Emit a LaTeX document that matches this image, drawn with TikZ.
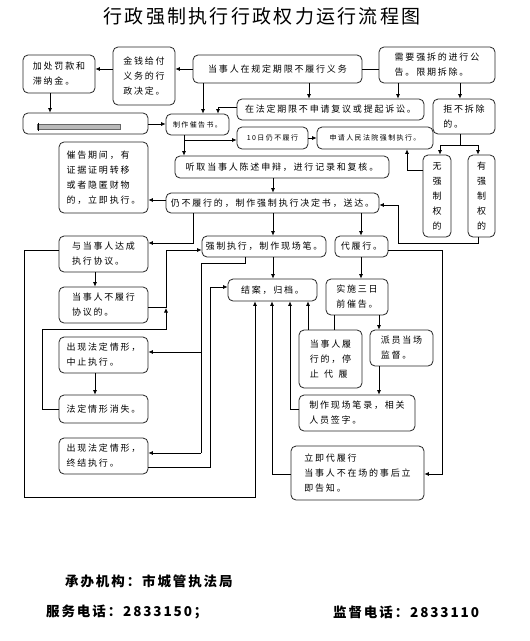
\documentclass[tikz,border=0pt]{standalone}
\usepackage{fontspec}
\usetikzlibrary{fit,arrows.meta}
\newfontfamily\cjk[LetterSpace=20]{Noto Sans CJK SC}
\newfontfamily\cjktitle[LetterSpace=12]{Noto Sans CJK SC}
\newfontfamily\cjkfoot[LetterSpace=14]{Noto Sans CJK SC}
\newcommand\lft[1]{{\def\\{\cr}\vbox{\halign{##\hfil\cr#1\crcr}}}}
\newcommand\ctr[1]{{\def\\{\cr}\vbox{\halign{\hfil##\hfil\cr#1\crcr}}}}
\begin{document}
\begin{tikzpicture}[x=1pt,y=-1pt,
  box/.style={draw=black!85, line width=0.8pt, rounded corners=5pt, inner sep=0pt},
  txt/.style={inner sep=0pt, font=\cjk\fontsize{9}{15}\selectfont},
  stxt/.style={inner sep=0pt, font=\cjk\fontsize{7}{10}\selectfont},
  conn/.style={draw=black, line width=0.7pt},
  arr/.style={conn, -{Latex[length=4.5pt,width=4pt]}},
  foot/.style={anchor=west, inner sep=0pt, font=\cjkfoot\bfseries\fontsize{13.5}{16}\selectfont}]
\useasboundingbox[fill=white] (0,0) rectangle (530,641);

% title
\node[font=\cjktitle\fontsize{19}{22}\selectfont] (T) at (262,16) {行政强制执行行政权力运行流程图};

% boxes
\node[box, fit={(23,55) (95,93)}] (B1) {};
\node[box, fit={(113,47) (175,105)}] (B2) {};
\node[box, fit={(193,55) (362,83)}] (B3) {};
\node[box, fit={(379,47) (495,83)}] (B4) {};
\node[box, fit={(433,99) (495,134)}] (B5) {};
\node[box, fit={(237,99) (424,120)}] (B6) {};
\node[box, fit={(23,113) (148,134)}] (B7) {};
\node[box, fit={(166,114) (229,135)}] (B8) {};
\node[box, fit={(237,127) (308,149)}] (B9) {};
\node[box, fit={(317,127) (433,149)}] (B10) {};
\node[box, fit={(175,156) (389,178)}] (B11) {};
\node[box, fit={(59,142) (148,213)}] (B12) {};
\node[box, fit={(423,155) (451,237)}] (B13) {};
\node[box, fit={(468,155) (495,237)}] (B14) {};
\node[box, fit={(166,193) (379,213)}] (B15) {};
\node[box, fit={(59,236) (148,272)}] (B16) {};
\node[box, fit={(202,236) (326,257)}] (B17) {};
\node[box, fit={(335,236) (388,257)}] (B18) {};
\node[box, fit={(59,287) (148,323)}] (B19) {};
\node[box, fit={(228,279) (317,301)}] (B20) {};
\node[box, fit={(326,279) (388,315)}] (B21) {};
\node[box, fit={(299,330) (362,388)}] (B22) {};
\node[box, fit={(370,330) (433,366)}] (B23) {};
\node[box, fit={(299,395) (415,431)}] (B24) {};
\node[box, fit={(291,446) (424,500)}] (B25) {};
\node[box, fit={(59,337) (148,373)}] (B26) {};
\node[box, fit={(59,395) (148,423)}] (B27) {};
\node[box, fit={(59,438) (148,474)}] (B28) {};

% box texts
\node[txt] (L1) at (B1) {\lft{加处罚款和\\滞纳金。}};
\node[txt] (L2) at (B2) {\lft{金钱给付\\义务的行\\政决定。}};
\node[txt] (L3) at (B3) {当事人在规定期限不履行义务};
\node[txt] (L4) at (B4) {\lft{需要强拆的进行公\\告。限期拆除。}};
\node[txt] (L5) at (B5) {\lft{拒不拆除\\的。}};
\node[txt] (L6) at (B6) {在法定期限不申请复议或提起诉讼。};
\node[stxt] (L8) at (B8) {制作催告书。};
\node[stxt] (L9) at (B9) {10日仍不履行};
\node[stxt] (L10) at (B10) {申请人民法院强制执行。};
\node[txt] (L11) at (B11) {听取当事人陈述申辩，进行记录和复核。};
\node[txt] (L12) at (B12) {\lft{催告期间，有\\证据证明转移\\或者隐匿财物\\的，立即执行。}};
\node[txt] (L13) at (B13) {\ctr{无\\强\\制\\权\\的}};
\node[txt] (L14) at (B14) {\ctr{有\\强\\制\\权\\的}};
\node[txt] (L15) at (B15) {仍不履行的，制作强制执行决定书，送达。};
\node[txt] (L16) at (B16) {\lft{与当事人达成\\执行协议。}};
\node[txt] (L17) at (B17) {强制执行，制作现场笔。};
\node[txt] (L18) at (B18) {代履行。};
\node[txt] (L19) at (B19) {\lft{当事人不履行\\协议的。}};
\node[txt] (L20) at (B20) {结案，归档。};
\node[txt] (L21) at (B21) {\lft{实施三日\\前催告。}};
\node[txt] (L22) at (B22) {\lft{当事人履\\行的，停\\止\hspace{0.6em}代\hspace{0.6em}履}};
\node[txt] (L23) at (B23) {\lft{派员当场\\监督。}};
\node[txt] (L24) at (B24) {\lft{制作现场笔录，相关\\人员签字。}};
\node[txt] (L25) at (B25) {\lft{立即代履行\\当事人不在场的事后立\\即告知。}};
\node[txt] (L26) at (B26) {\lft{出现法定情形，\\中止执行。}};
\node[txt] (L27) at (B27) {法定情形消失。};
\node[txt] (L28) at (B28) {\lft{出现法定情形，\\终结执行。}};

% grey bar inside B7
\filldraw[fill=gray!55, draw=gray!80!black, line width=0.4pt] (37,124) rectangle (120,129);
\draw[line width=0.8pt] (38,122.5) -- (38,130.5);

% connectors
\draw[arr] (B3.west |- 0,69) -- (B2.east |- 0,69);
\draw[arr] (B2.west |- 0,69) -- (B1.east |- 0,69);
\draw[arr] (B1.south -| 50,0) -- (B7.north -| 50,0);
\draw[arr] (B7.east |- 0,124) -- (B8.west |- 0,124);
\draw[arr] (B3.south -| 203,0) -- (B8.north -| 203,0);
\draw[arr] (B3.south -| 309,0) -- (B6.north -| 309,0);
\draw[conn] (B3.east |- 0,69) -- (B4.west |- 0,69);
\draw[arr] (B4.south -| 398,0) -- (B6.north -| 398,0);
\draw[arr] (B4.south -| 460,0) -- (B5.north -| 460,0);
\draw[arr] (B6.west |- 0,107) -| (B8.north -| 218,0);
\draw[arr] (B8.south -| 184,0) -- (B11.north -| 184,0);
\draw[arr] (184,140) -- (B9.west |- 0,140);
\draw[arr] (B9.east |- 0,138) -- (B10.west |- 0,138);
\draw[arr] (B13.west |- 0,170) -| (B10.south -| 407,0);
\draw[conn] (B5.south -| 460,0) -- (460,145);
\draw[conn] (440,145) -- (478,145);
\draw[arr] (440,145) -- (B13.north -| 440,0);
\draw[arr] (478,145) -- (B14.north -| 478,0);
\draw[arr] (B14.south -| 478,0) -- (478,243) -- (398,243) -- (398,205) -- (B15.east |- 0,205);
\draw[arr] (B11.south -| 273,0) -- (B15.north -| 273,0);
\draw[arr] (B15.west |- 0,200) -- (B12.east |- 0,200);
\draw[arr] (B15.south -| 193,0) |- (B16.east |- 0,243);
\draw[arr] (B15.south -| 273,0) -- (B17.north -| 273,0);
\draw[arr] (B15.south -| 361,0) -- (B18.north -| 361,0);
\draw[arr] (B16.south -| 95,0) -- (B19.north -| 95,0);
\draw[arr] (B16.west |- 0,250) -- (24,250) -- (24,497) -- (255,497) -- (B20.south -| 255,0);
\draw[arr] (B17.south -| 273,0) -- (B20.north -| 273,0);
\draw[conn] (B17.south -| 245,0) -- (245,263) -- (201,263) -- (201,453);
\draw[arr] (201,352) -- (B26.east |- 0,352);
\draw[arr] (201,453) -- (B28.east |- 0,453);
\draw[arr] (B28.east |- 0,467) -- (210,467) -- (210,287) -- (B20.west |- 0,287);
\draw[arr] (B19.east |- 0,307) -- (166,307) -- (166,250) -- (B17.west |- 0,250);
\draw[arr] (B27.west |- 0,409) -- (42,409) -- (42,329) -- (166,329) -- (166,308);
\draw[arr] (B26.south -| 95,0) -- (B27.north -| 95,0);
\draw[arr] (B18.east |- 0,250) -- (442,250) -- (442,474) -- (B25.east |- 0,474);
\draw[arr] (B18.south -| 361,0) -- (B21.north -| 361,0);
\draw[arr] (B21.south -| 379,0) -- (B23.north -| 379,0);
\draw[conn] (B21.south -| 334,0) -- (B22.north -| 334,0);
\draw[arr] (B23.south -| 379,0) -- (B24.north -| 379,0);
\draw[arr] (B25.west |- 0,474) -- (272,474) -- (B20.south -| 272,0);
\draw[arr] (B24.west |- 0,409) -- (290,409) -- (B20.south -| 290,0);
\draw[arr] (B22.north -| 308,0) -- (B20.south -| 308,0);

% footer
\node[foot] (F1) at (65,581) {承办机构：市城管执法局};
\node[foot] (F2) at (46,612) {服务电话：2833150；};
\node[foot] (F3) at (333,612) {监督电话：2833110};
\end{tikzpicture}
\end{document}
